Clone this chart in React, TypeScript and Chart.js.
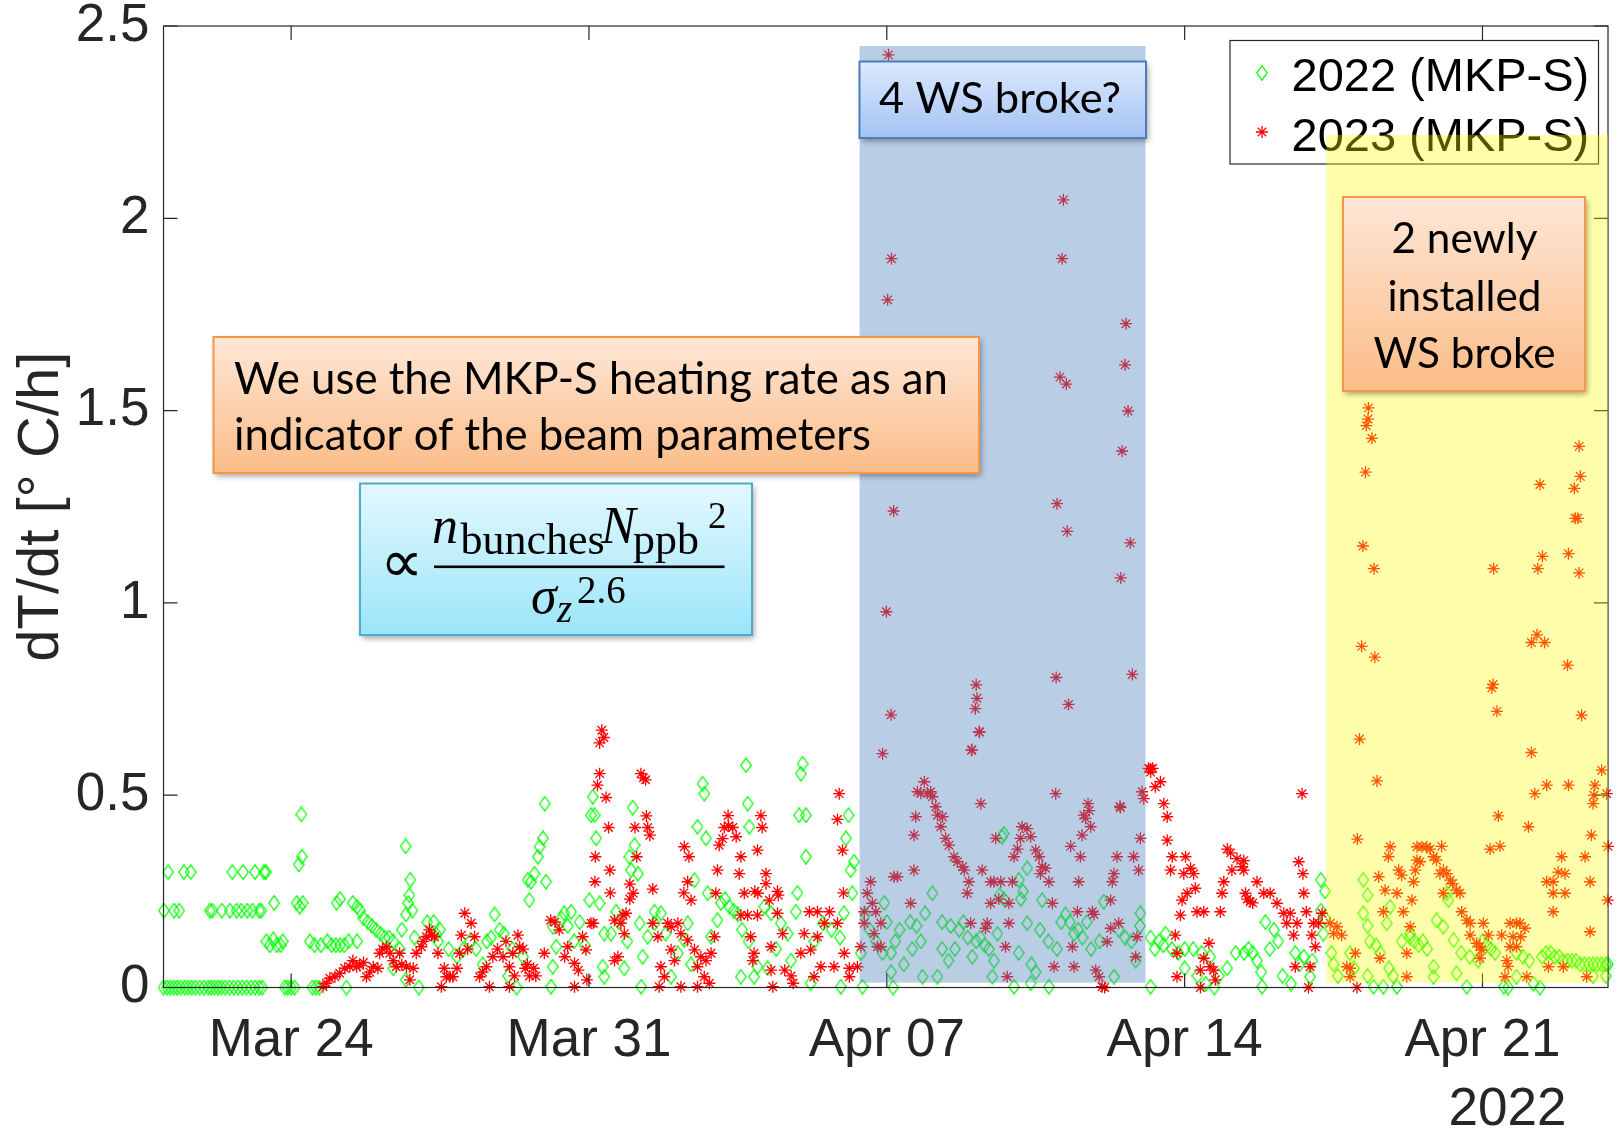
import React, { useEffect, useRef } from "react";
import { Chart, registerables } from "chart.js";

Chart.register(...registerables);

// ---------------- axes ----------------
// x is measured in days since Mar 21 (2022 calendar)
const X_MIN = 0;
const X_MAX = 33.95;
const xTickDays = [3, 10, 17, 24, 31];
const xTickLabels = ["Mar 24", "Mar 31", "Apr 07", "Apr 14", "Apr 21"];
const yearLabel = "2022";
const yTickValues = [0, 0.5, 1, 1.5, 2, 2.5];
const yTickLabels = ["0", "0.5", "1", "1.5", "2", "2.5"];
const yAxisTitle = "dT/dt [° C/h]";
const seriesNames = ["2022 (MKP-S)", "2023 (MKP-S)"];

// ---------------- data: [day, dT/dt] ----------------
const points2022: [number, number][] = [
  [0, 0], [0.08, 0], [0.16, 0], [0.24, 0], [0.32, 0], [0.4, 0], [0.5, 0], [0.58, 0], [0.66, 0], [0.75, 0],
  [0.85, 0], [0.95, 0], [1.05, 0], [1.12, 0], [1.2, 0], [1.28, 0], [1.36, 0], [1.45, 0], [1.55, 0], [1.65, 0],
  [1.75, 0], [1.85, 0], [1.95, 0], [2.05, 0], [2.15, 0], [2.25, 0], [2.32, 0],
  [2.85, 0], [2.92, 0], [3.0, 0], [3.08, 0], [3.5, 0], [3.58, 0], [3.66, 0], [4.3, 0],
  [0.01, 0.2], [0.25, 0.2], [0.37, 0.2], [1.09, 0.2], [1.15, 0.2], [1.37, 0.2], [1.56, 0.2], [1.72, 0.2],
  [1.83, 0.2], [1.97, 0.2], [2.09, 0.2], [2.25, 0.2], [2.3, 0.2],
  [0.11, 0.3], [0.48, 0.3], [0.64, 0.3], [1.62, 0.3], [1.87, 0.3], [2.15, 0.3], [2.36, 0.3], [2.41, 0.3],
  [2.42, 0.12], [2.5, 0.11], [2.58, 0.125], [2.66, 0.11], [2.75, 0.11], [2.8, 0.12], [2.6, 0.22],
  [3.13, 0.22], [3.2, 0.21], [3.27, 0.22], [3.18, 0.32], [3.25, 0.34], [3.24, 0.45],
  [3.44, 0.12], [3.55, 0.11], [3.7, 0.11], [3.85, 0.12], [3.95, 0.11], [4.05, 0.11], [4.15, 0.11], [4.25, 0.11],
  [4.35, 0.12], [4.55, 0.12], [4.07, 0.22], [4.15, 0.23],
  [4.45, 0.22], [4.55, 0.21], [4.62, 0.2], [4.7, 0.18], [4.8, 0.17], [4.9, 0.16], [5.0, 0.15], [5.1, 0.14],
  [5.2, 0.13], [5.3, 0.13], [5.4, 0.12],
  [5.69, 0.367], [5.8, 0.28], [5.78, 0.24], [5.75, 0.22], [5.85, 0.2], [5.7, 0.19], [5.6, 0.15], [5.9, 0.13],
  [5.4, 0.05], [5.55, 0.1], [5.7, 0.02], [6.0, 0.0],
  [6.2, 0.17], [6.35, 0.17], [6.5, 0.15], [6.4, 0.14], [6.45, 0.12],
  [6.7, 0.1], [6.9, 0.08], [7.05, 0.1], [7.2, 0.12], [7.35, 0.1], [7.5, 0.06], [7.7, 0.13], [7.6, 0.12],
  [7.78, 0.19], [7.9, 0.15], [8.0, 0.14], [8.1, 0.03], [8.3, 0.0], [8.45, 0.08], [8.2, 0.1],
  [8.56, 0.28], [8.6, 0.227], [8.64, 0.275], [8.72, 0.296], [8.8, 0.34], [8.84, 0.366], [8.92, 0.388],
  [8.96, 0.478], [8.99, 0.275],
  [9.42, 0.193], [9.58, 0.197], [9.15, 0.158], [9.78, 0.17], [9.23, 0.106], [9.15, 0.054], [9.11, 0.002],
  [9.35, 0.18], [9.5, 0.16], [9.65, 0.12], [9.9, 0.11],
  [10.09, 0.496], [10.05, 0.448], [10.13, 0.448], [10.17, 0.388], [10.01, 0.227], [10.25, 0.219], [10.36, 0.14],
  [10.32, 0.054], [10.36, 0.028], [10.64, 0.197], [10.52, 0.14], [10.83, 0.05], [10.7, 0.17], [10.9, 0.12],
  [11.03, 0.468], [11.07, 0.37], [10.95, 0.34], [10.99, 0.305], [11.15, 0.296], [11.19, 0.167], [11.26, 0.08],
  [11.23, 0.002], [11.54, 0.197], [11.69, 0.193], [11.38, 0.132], [11.54, 0.167], [11.93, 0.028], [11.8, 0.14],
  [12.09, 0.089], [12.32, 0.167], [12.24, 0.123], [12.67, 0.53], [12.71, 0.504], [12.55, 0.418], [12.75, 0.388],
  [12.48, 0.279], [12.79, 0.245], [12.87, 0.132], [12.4, 0.06],
  [13.02, 0.175], [13.1, 0.22], [13.2, 0.23], [13.3, 0.21], [13.4, 0.2], [13.5, 0.19], [13.57, 0.028],
  [13.69, 0.578], [13.73, 0.478], [13.77, 0.418], [13.88, 0.028], [13.96, 0.054], [13.6, 0.15], [13.75, 0.12],
  [14.12, 0.21], [14.28, 0.193], [14.51, 0.167], [14.67, 0.14], [14.75, 0.07], [14.4, 0.1], [14.2, 0.05],
  [15.02, 0.582], [14.98, 0.556], [14.94, 0.448], [15.1, 0.448], [15.1, 0.34], [14.9, 0.246], [14.86, 0.197],
  [15.21, 0.011], [15.5, 0.167], [15.7, 0.15], [15.9, 0.13], [15.92, 0.002], [15.3, 0.12],
  [16.1, 0.448], [16.04, 0.388], [16.23, 0.327], [16.15, 0.305], [16.19, 0.245], [15.99, 0.193], [16.39, 0.089],
  [16.43, 0.002], [16.94, 0.22], [16.6, 0.15], [16.75, 0.12], [16.9, 0.09], [17.0, 0.17], [16.5, 0.19],
  [17.2, 0.12], [17.3, 0.15], [17.1, 0.09], [17.1, 0.04], [17.15, 0.0], [17.55, 0.17], [17.7, 0.16], [17.8, 0.12],
  [17.6, 0.1], [17.9, 0.193], [18.07, 0.245], [17.84, 0.028], [18.19, 0.028], [17.4, 0.06],
  [18.3, 0.17], [18.5, 0.16], [18.7, 0.15], [18.9, 0.13], [18.6, 0.1], [18.3, 0.1], [18.45, 0.07], [18.8, 0.17],
  [19.01, 0.08], [19.1, 0.12], [19.3, 0.11], [19.4, 0.1], [19.52, 0.07], [19.48, 0.028], [19.6, 0.14],
  [19.71, 0.392], [19.75, 0.4], [19.65, 0.24], [19.75, 0.23], [19.99, 0.002], [19.2, 0.13],
  [20.1, 0.28], [20.3, 0.31], [20.2, 0.25], [20.15, 0.23], [20.3, 0.167], [20.1, 0.09], [20.4, 0.06], [20.5, 0.04],
  [20.38, 0.011], [20.65, 0.227], [20.6, 0.15], [20.8, 0.12], [21.0, 0.1], [20.81, 0.002],
  [21.1, 0.17], [21.3, 0.17], [21.5, 0.15], [21.4, 0.14], [21.2, 0.19], [21.6, 0.13], [21.8, 0.1], [22.0, 0.12],
  [22.1, 0.223], [22.34, 0.028], [21.7, 0.17],
  [22.45, 0.15], [22.6, 0.13], [22.75, 0.12], [22.95, 0.16], [22.96, 0.193], [22.85, 0.07], [23.2, 0.002],
  [23.2, 0.13], [23.4, 0.12], [23.5, 0.11], [23.7, 0.1], [23.85, 0.09], [24.0, 0.05], [23.55, 0.14], [23.3, 0.1],
  [24.0, 0.1], [24.2, 0.1], [24.4, 0.09], [24.6, 0.08], [24.3, 0.03], [24.5, 0.01], [24.7, 0.0], [24.8, 0.03],
  [25.0, 0.05], [25.2, 0.09], [25.5, 0.1], [25.6, 0.09], [25.4, 0.09], [25.8, 0.04], [25.82, 0.002], [25.7, 0.07],
  [25.9, 0.17], [26.1, 0.15], [26.2, 0.12], [26.0, 0.1], [26.3, 0.03], [26.5, 0.01], [26.6, 0.09], [26.8, 0.08],
  [27.0, 0.07], [26.95, 0.028], [26.7, 0.06],
  [27.2, 0.28], [27.3, 0.25], [27.2, 0.2], [27.3, 0.18], [27.26, 0.14], [27.45, 0.09], [27.6, 0.03],
  [27.89, 0.089], [27.98, 0.05], [28.3, 0.03], [27.5, 0.06],
  [28.2, 0.28], [28.3, 0.24], [28.2, 0.193], [28.3, 0.16], [28.35, 0.12], [28.44, 0.002], [28.67, 0.002],
  [28.99, 0.002], [28.6, 0.09], [28.8, 0.05], [28.9, 0.03], [28.75, 0.167], [28.83, 0.21], [28.5, 0.11],
  [29.1, 0.12], [29.3, 0.13], [29.5, 0.11], [29.7, 0.1], [29.3, 0.14], [29.4, 0.12], [29.6, 0.12], [29.85, 0.054],
  [29.85, 0.028], [29.92, 0.175], [30.08, 0.158], [30.16, 0.245], [30.2, 0.227], [30.32, 0.123], [30.39, 0.037],
  [30.5, 0.09], [30.7, 0.08], [30.9, 0.07], [30.63, 0.002], [31.0, 0.12], [31.2, 0.1], [31.3, 0.09], [31.1, 0.11],
  [31.5, 0.002], [31.6, 0.0], [31.8, 0.09], [32.1, 0.07], [31.8, 0.028], [31.95, 0.08], [32.2, 0.01], [32.35, 0.0],
  [32.4, 0.08], [32.5, 0.09], [32.6, 0.09], [32.7, 0.08], [32.8, 0.08], [32.9, 0.07], [33.0, 0.07], [33.1, 0.07],
  [33.2, 0.07], [33.3, 0.06], [33.4, 0.06], [33.5, 0.06], [33.6, 0.06], [33.7, 0.06], [33.8, 0.06], [33.9, 0.06],
  [33.95, 0.06], [33.6, 0.03], [33.9, 0.03],
];

const points2023: [number, number][] = [
  [3.75, 0.002], [3.83, 0.011], [3.91, 0.024], [4.03, 0.028], [4.14, 0.037], [4.26, 0.05], [4.38, 0.054],
  [4.54, 0.054], [4.61, 0.058], [4.77, 0.028], [4.93, 0.054], [5.04, 0.05], [5.08, 0.089], [5.24, 0.106],
  [5.32, 0.089], [5.47, 0.054], [5.55, 0.089], [5.71, 0.054], [5.87, 0.05], [5.79, 0.02], [5.94, 0.089],
  [6.06, 0.106], [6.18, 0.132], [6.3, 0.136], [6.37, 0.132], [6.45, 0.089], [6.53, 0.002], [6.65, 0.028],
  [6.73, 0.028], [6.8, 0.028], [6.96, 0.089], [7.0, 0.136], [7.08, 0.193], [7.23, 0.167], [7.31, 0.132],
  [7.43, 0.028], [7.66, 0.002], [7.59, 0.054], [7.74, 0.08], [7.98, 0.08], [8.13, 0.054], [8.21, 0.089],
  [8.33, 0.136], [8.37, 0.106], [8.13, 0.002],
  [4.45, 0.07], [4.7, 0.065], [4.85, 0.04], [5.15, 0.1], [5.4, 0.07], [5.6, 0.06], [6.1, 0.12], [6.25, 0.15],
  [6.6, 0.05], [6.9, 0.05], [7.15, 0.1], [7.5, 0.04], [7.85, 0.1], [8.05, 0.12], [8.25, 0.03], [8.45, 0.1],
  [8.5, 0.05], [8.6, 0.03], [8.7, 0.05], [8.75, 0.03], [8.55, 0.06], [8.95, 0.089], [9.1, 0.175], [9.2, 0.17],
  [9.3, 0.15], [9.5, 0.106], [9.43, 0.08], [9.66, 0.063], [9.75, 0.045], [9.95, 0.02], [9.85, 0.132],
  [9.66, 0.002], [10.05, 0.167], [9.93, 0.098],
  [10.3, 0.669], [10.25, 0.636], [10.35, 0.65], [10.25, 0.556], [10.2, 0.526], [10.4, 0.494], [10.46, 0.416],
  [10.15, 0.34], [10.49, 0.305], [10.14, 0.275], [10.5, 0.246], [10.1, 0.167],
  [10.6, 0.175], [10.75, 0.167], [10.83, 0.14], [10.87, 0.193], [10.68, 0.08], [10.6, 0.07],
  [11.22, 0.556], [11.28, 0.545], [11.33, 0.54], [11.35, 0.446], [11.08, 0.416], [11.38, 0.416], [11.43, 0.396],
  [11.12, 0.34], [10.96, 0.269], [11.04, 0.245], [10.96, 0.23], [10.8, 0.188], [11.5, 0.256],
  [11.5, 0.167], [11.85, 0.167], [11.93, 0.158], [11.62, 0.132], [11.69, 0.054], [11.77, 0.028], [11.65, 0.002],
  [12.09, 0.167], [12.16, 0.14], [11.93, 0.098], [12.01, 0.07],
  [12.24, 0.366], [12.35, 0.34], [12.32, 0.275], [12.23, 0.246], [12.4, 0.227], [12.32, 0.123], [12.48, 0.098],
  [12.63, 0.08], [12.75, 0.07], [12.87, 0.089], [12.55, 0.054], [12.71, 0.028], [12.55, 0.002], [12.83, 0.011],
  [12.16, 0.002], [13.02, 0.305], [12.98, 0.245], [12.95, 0.132],
  [13.27, 0.447], [13.18, 0.416], [13.38, 0.416], [13.46, 0.392], [13.06, 0.37], [13.14, 0.387], [13.28, 0.42],
  [13.57, 0.34], [13.53, 0.296], [13.65, 0.245], [13.9, 0.25], [13.97, 0.245], [13.96, 0.357], [14.04, 0.447],
  [14.07, 0.416], [14.16, 0.296], [14.16, 0.27], [14.24, 0.227], [14.43, 0.25], [14.45, 0.24],
  [13.57, 0.188], [13.73, 0.188], [13.96, 0.188], [13.8, 0.132], [13.88, 0.089], [13.85, 0.07], [14.28, 0.106],
  [14.28, 0.045], [14.32, 0.002], [14.55, 0.14], [14.43, 0.193], [14.6, 0.045], [14.75, 0.03], [14.8, 0.011],
  [14.98, 0.089], [15.06, 0.14], [15.21, 0.098], [15.37, 0.132], [15.18, 0.197], [15.37, 0.197], [15.65, 0.197],
  [15.53, 0.167], [15.84, 0.167], [15.29, 0.028], [15.45, 0.054], [15.76, 0.054],
  [15.88, 0.504], [15.84, 0.437], [15.96, 0.357], [15.98, 0.246], [16.0, 0.089], [16.12, 0.05], [16.12, 0.028],
  [16.31, 0.054],
  [16.39, 0.106], [16.47, 0.197], [16.62, 0.275], [16.54, 0.245], [16.66, 0.219], [16.74, 0.197], [16.86, 0.167],
  [16.78, 0.106], [16.86, 0.106], [16.7, 0.14], [16.47, 0.167], [16.9, 0.608], [17.17, 0.288],
  [17.04, 2.425], [17.11, 1.895], [17.02, 1.788], [17.16, 1.239], [16.99, 0.977], [17.1, 0.709],
  [19.17, 0.665], [18.99, 0.617], [17.88, 0.535], [17.72, 0.509], [18.03, 0.509], [17.8, 0.505], [17.95, 0.505],
  [18.07, 0.496], [18.15, 0.47], [18.19, 0.448], [18.31, 0.444], [17.68, 0.444], [18.27, 0.418], [17.64, 0.396],
  [18.38, 0.388], [18.46, 0.37], [18.58, 0.34], [18.66, 0.327], [18.78, 0.314], [18.82, 0.305], [18.93, 0.275],
  [18.89, 0.245], [17.64, 0.305], [17.25, 0.288], [17.56, 0.219],
  [19.21, 0.478], [19.24, 0.305], [19.56, 0.388], [19.44, 0.275], [19.52, 0.275], [19.68, 0.275], [19.44, 0.219],
  [19.63, 0.23], [19.95, 0.275], [19.87, 0.219], [18.97, 0.167], [19.36, 0.167], [19.32, 0.154], [19.87, 0.167],
  [19.79, 0.106], [19.83, 0.028],
  [19.1, 0.787], [19.12, 0.752], [19.08, 0.725], [19.18, 0.664], [19.0, 0.618],
  [20.18, 0.418], [20.3, 0.413], [20.14, 0.388], [20.38, 0.392], [20.07, 0.36], [19.99, 0.34], [20.5, 0.357],
  [20.58, 0.34], [20.65, 0.314], [20.73, 0.31], [20.61, 0.296], [20.81, 0.275], [20.97, 0.504], [20.89, 0.219],
  [20.93, 0.054],
  [21.15, 2.048], [21.12, 1.895], [21.07, 1.587], [21.22, 1.569], [21.0, 1.258], [21.24, 1.186], [20.98, 0.806],
  [21.27, 0.736],
  [21.4, 0.054], [21.36, 0.106], [21.32, 0.367], [21.59, 0.396], [21.63, 0.448], [21.67, 0.44], [21.73, 0.478],
  [21.76, 0.46], [21.79, 0.418], [21.55, 0.34], [21.51, 0.275], [21.48, 0.197], [21.83, 0.197], [21.87, 0.19],
  [21.91, 0.045], [21.99, 0.028], [22.06, 0.002], [22.12, 0.0],
  [22.26, 0.227], [22.34, 0.296], [22.3, 0.275], [22.41, 0.34], [22.49, 0.468], [22.26, 0.154], [22.45, 0.167],
  [22.18, 0.119], [22.8, 0.34], [22.92, 0.305], [22.96, 0.388], [22.88, 0.132], [22.85, 0.08], [23.04, 0.491],
  [23.0, 0.509],
  [22.62, 1.726], [22.6, 1.619], [22.67, 1.499], [22.53, 1.395], [22.72, 1.156], [22.5, 1.065], [22.77, 0.814],
  [22.48, 0.471],
  [23.15, 0.57], [23.2, 0.568], [23.25, 0.57], [23.2, 0.56], [23.43, 0.535], [23.31, 0.522], [23.51, 0.478],
  [23.59, 0.444], [23.59, 0.383], [23.71, 0.34], [23.67, 0.305], [24.02, 0.34], [23.98, 0.296], [24.14, 0.31],
  [24.21, 0.296], [24.25, 0.258], [24.06, 0.245], [23.94, 0.227], [23.9, 0.188], [24.29, 0.197], [24.45, 0.197],
  [24.84, 0.197], [23.78, 0.136], [23.82, 0.089], [23.82, 0.028],
  [24.57, 0.115], [24.45, 0.076], [24.6, 0.054], [24.37, 0.045], [24.68, 0.045], [24.37, 0.0], [24.72, 0.02],
  [25.0, 0.36], [25.08, 0.35], [25.23, 0.335], [25.35, 0.314], [25.11, 0.305], [24.92, 0.275], [24.88, 0.245],
  [25.43, 0.245], [25.54, 0.223],
  [25.39, 0.33], [25.39, 0.305], [25.47, 0.23], [25.6, 0.22], [25.7, 0.275], [25.86, 0.245], [26.01, 0.245],
  [26.17, 0.219], [26.33, 0.193], [26.48, 0.193], [26.4, 0.167], [26.64, 0.167], [26.56, 0.136], [26.76, 0.504],
  [26.68, 0.327], [26.78, 0.296], [26.8, 0.245], [26.86, 0.197], [27.03, 0.167], [26.99, 0.136], [27.07, 0.106],
  [26.6, 0.054], [26.95, 0.054], [26.91, 0.0], [27.23, 0.193], [27.15, 0.167],
  [27.42, 0.167], [27.58, 0.158], [27.69, 0.136], [27.5, 0.14], [27.81, 0.054], [27.89, 0.05], [27.89, 0.028],
  [28.01, 0.089], [28.05, 0.0],
  [28.11, 0.646], [28.52, 0.537], [28.06, 0.386], [28.56, 0.288], [28.67, 0.197], [28.71, 0.253], [28.83, 0.366],
  [28.79, 0.34], [28.99, 0.245], [29.03, 0.305], [29.1, 0.292], [29.14, 0.197], [28.59, 0.076], [29.22, 0.028],
  [29.22, 0.089], [29.3, 0.158], [29.34, 0.227], [29.38, 0.275], [29.42, 0.305], [29.46, 0.331], [29.46, 0.366],
  [29.58, 0.366], [29.69, 0.366], [29.77, 0.36], [29.85, 0.34], [29.92, 0.331], [29.53, 0.327], [30.04, 0.367],
  [30.08, 0.305], [30.0, 0.296], [30.16, 0.296], [30.24, 0.279], [30.3, 0.27], [30.39, 0.253], [30.47, 0.245],
  [30.08, 0.245], [30.51, 0.197], [30.63, 0.175], [30.71, 0.167], [30.71, 0.136], [30.86, 0.115], [30.94, 0.106],
  [30.98, 0.098], [30.94, 0.076], [31.02, 0.167], [31.14, 0.136], [31.18, 0.36], [31.41, 0.367], [31.37, 0.446],
  [31.45, 0.136], [31.57, 0.07], [31.6, 0.055], [31.53, 0.028], [31.65, 0.167], [31.8, 0.167], [31.88, 0.167],
  [32.0, 0.154], [31.72, 0.132], [31.9, 0.132], [31.65, 0.106], [31.8, 0.106], [32.04, 0.028],
  [32.08, 0.418], [32.15, 0.611], [32.23, 0.504], [32.51, 0.526], [32.51, 0.275], [32.66, 0.275], [32.78, 0.3],
  [32.86, 0.34], [32.94, 0.296], [32.66, 0.245], [32.94, 0.245], [32.66, 0.197], [32.55, 0.054], [32.9, 0.054],
  [33.02, 0.526], [33.41, 0.34], [33.53, 0.275], [33.56, 0.396], [33.53, 0.145], [33.45, 0.028], [33.64, 0.526],
  [33.62, 0.5], [33.6, 0.478], [33.8, 0.565], [33.92, 0.504], [33.95, 0.367], [33.94, 0.227],
  [28.32, 1.507], [28.31, 1.478], [28.27, 1.461], [28.4, 1.428], [28.25, 1.34], [28.19, 1.148], [28.45, 1.089],
  [28.16, 0.887], [28.47, 0.859], [31.26, 1.089], [31.22, 0.779], [31.25, 0.788], [31.34, 0.718], [32.35, 1.308],
  [32.41, 1.121], [32.3, 1.089], [32.28, 0.917], [32.15, 0.897], [32.46, 0.897], [33.27, 1.407], [33.3, 1.329],
  [33.16, 1.298], [33.18, 1.22], [33.24, 1.22], [33.02, 1.128], [33.27, 1.078], [33.0, 0.838], [33.33, 0.708],
];

// shaded periods (data units: days, dT/dt)
const blueBand = { from: 16.36, to: 23.08, low: 0.0125, high: 2.448 };
const yellowBand = { from: 27.33, to: 33.95, low: 0.0125, high: 2.217 };

// annotation texts
const noteBroke4 = "4 WS broke?";
const noteIndicator = ["We use the MKP-S heating rate as an", "indicator of the beam parameters"];
const noteNewly = ["2 newly", "installed", "WS broke"];

// ---------------- styling ----------------
const AXIS_COLOR = "#262626";
const AXIS_FONT = "'Liberation Sans', Arial, sans-serif";
const NOTE_FONT = "Lato, 'Open Sans', sans-serif";
const MATH_FONT = "'Liberation Serif', 'DejaVu Serif', serif";
const GREEN = "#00ff00";
const RED = "#ff0000";

function makeDiamond(): HTMLCanvasElement {
  const c = document.createElement("canvas");
  c.width = 12;
  c.height = 16;
  const g = c.getContext("2d")!;
  g.strokeStyle = GREEN;
  g.lineWidth = 1.25;
  g.beginPath();
  g.moveTo(6, 0.8);
  g.lineTo(11.2, 8);
  g.lineTo(6, 15.2);
  g.lineTo(0.8, 8);
  g.closePath();
  g.stroke();
  return c;
}

function drawStar(ctx: CanvasRenderingContext2D, x: number, y: number, r: number) {
  const d = r * Math.SQRT1_2;
  ctx.save();
  ctx.strokeStyle = RED;
  ctx.lineWidth = 1.3;
  ctx.beginPath();
  ctx.moveTo(x - r, y); ctx.lineTo(x + r, y);
  ctx.moveTo(x, y - r); ctx.lineTo(x, y + r);
  ctx.moveTo(x - d, y - d); ctx.lineTo(x + d, y + d);
  ctx.moveTo(x - d, y + d); ctx.lineTo(x + d, y - d);
  ctx.stroke();
  ctx.restore();
}

function fitSize(ctx: CanvasRenderingContext2D, text: string, family: string, target: number, style = "") {
  ctx.font = `${style} 100px ${family}`;
  const w = ctx.measureText(text).width || 1;
  return (100 * target) / w;
}

type Box = { x0: number; y0: number; x1: number; y1: number; top: string; bottom: string; border: string };

function noteBox(ctx: CanvasRenderingContext2D, b: Box) {
  ctx.save();
  ctx.shadowColor = "rgba(0,0,0,0.38)";
  ctx.shadowBlur = 6;
  ctx.shadowOffsetX = 2;
  ctx.shadowOffsetY = 3;
  const g = ctx.createLinearGradient(0, b.y0, 0, b.y1);
  g.addColorStop(0, b.top);
  g.addColorStop(1, b.bottom);
  ctx.fillStyle = g;
  ctx.fillRect(b.x0, b.y0, b.x1 - b.x0, b.y1 - b.y0);
  ctx.restore();
  ctx.save();
  ctx.strokeStyle = b.border;
  ctx.lineWidth = 2;
  ctx.strokeRect(b.x0, b.y0, b.x1 - b.x0, b.y1 - b.y0);
  ctx.restore();
}

const ORANGE = { top: "#fee7d6", bottom: "#fbbc88", border: "#f79646" };
const BLUE = { top: "#dde9fd", bottom: "#a4c3f6", border: "#4a7ebb" };
const CYAN = { top: "#e3f8fe", bottom: "#9be5fa", border: "#4bacc6" };

export default function App() {
  const ref = useRef<HTMLCanvasElement | null>(null);

  useEffect(() => {
    document.body.style.margin = "0";
    const canvas = ref.current!;
    const diamond = makeDiamond();

    const overlayPlugin = {
      id: "overlays",
      afterDatasetsDraw(chart: any) {
        const { ctx, chartArea: a, scales } = chart;
        const xs = scales.x;
        const ys = scales.y;
        ctx.save();

        // axes frame + inward ticks (MATLAB box style)
        ctx.strokeStyle = AXIS_COLOR;
        ctx.lineWidth = 1.2;
        ctx.strokeRect(a.left, a.top, a.right - a.left, a.bottom - a.top);
        ctx.beginPath();
        const TL = 14;
        for (const d of xTickDays) {
          const px = xs.getPixelForValue(d);
          ctx.moveTo(px, a.bottom); ctx.lineTo(px, a.bottom - TL);
          ctx.moveTo(px, a.top); ctx.lineTo(px, a.top + TL);
        }
        for (const v of yTickValues) {
          const py = ys.getPixelForValue(v);
          ctx.moveTo(a.left, py); ctx.lineTo(a.left + TL, py);
          ctx.moveTo(a.right, py); ctx.lineTo(a.right - TL, py);
        }
        ctx.stroke();

        // year label under the last tick
        ctx.fillStyle = AXIS_COLOR;
        ctx.font = `53px ${AXIS_FONT}`;
        ctx.textAlign = "center";
        ctx.textBaseline = "alphabetic";
        ctx.fillText(yearLabel, xs.getPixelForValue(xTickDays[xTickDays.length - 1]) + 25, 1125);

        // legend
        const lg = { x0: 1230, y0: 40.5, x1: 1598.5, y1: 164 };
        ctx.fillStyle = "#ffffff";
        ctx.fillRect(lg.x0, lg.y0, lg.x1 - lg.x0, lg.y1 - lg.y0);
        ctx.strokeStyle = AXIS_COLOR;
        ctx.lineWidth = 1.2;
        ctx.strokeRect(lg.x0, lg.y0, lg.x1 - lg.x0, lg.y1 - lg.y0);
        ctx.drawImage(diamond, 1262 - 6, 73 - 8);
        drawStar(ctx, 1262, 132, 6);
        ctx.fillStyle = "#000000";
        ctx.font = `47px ${AXIS_FONT}`;
        ctx.textAlign = "left";
        ctx.fillText(seriesNames[0], 1291.5, 90.5);
        ctx.fillText(seriesNames[1], 1291.5, 150.5);

        // shaded periods
        const band = (b: typeof blueBand, color: string) => {
          const x0 = xs.getPixelForValue(b.from);
          const x1 = xs.getPixelForValue(b.to);
          const y0 = ys.getPixelForValue(b.high);
          const y1 = ys.getPixelForValue(b.low);
          ctx.fillStyle = color;
          ctx.fillRect(x0, y0, x1 - x0, y1 - y0);
        };
        band(blueBand, "rgba(79,129,189,0.4)");
        band(yellowBand, "rgba(255,255,0,0.33)");

        // ---- annotation boxes ----
        // "4 WS broke?"
        noteBox(ctx, { x0: 859.5, y0: 61.5, x1: 1146, y1: 138, ...BLUE });
        ctx.fillStyle = "#000000";
        let s = fitSize(ctx, noteBroke4, NOTE_FONT, 242);
        ctx.font = `${s}px ${NOTE_FONT}`;
        ctx.textAlign = "center";
        ctx.fillText(noteBroke4, 1000, 113);

        // indicator note
        noteBox(ctx, { x0: 213.5, y0: 337, x1: 979, y1: 473, ...ORANGE });
        ctx.fillStyle = "#000000";
        s = fitSize(ctx, noteIndicator[0], NOTE_FONT, 714);
        ctx.font = `${s}px ${NOTE_FONT}`;
        ctx.textAlign = "left";
        ctx.fillText(noteIndicator[0], 234, 394);
        ctx.fillText(noteIndicator[1], 234, 450);

        // newly installed note
        noteBox(ctx, { x0: 1343, y0: 197, x1: 1585, y1: 391, ...ORANGE });
        ctx.fillStyle = "#000000";
        s = fitSize(ctx, noteNewly[2], NOTE_FONT, 182);
        ctx.font = `${s}px ${NOTE_FONT}`;
        ctx.textAlign = "center";
        ctx.fillText(noteNewly[0], 1464.5, 253);
        ctx.fillText(noteNewly[1], 1464.5, 311);
        ctx.fillText(noteNewly[2], 1464.5, 368);

        // formula box
        noteBox(ctx, { x0: 360, y0: 483.5, x1: 752, y1: 635, ...CYAN });
        ctx.fillStyle = "#000000";
        ctx.textAlign = "center";
        ctx.font = `60px 'DejaVu Sans', 'DejaVu Serif', sans-serif`;
        ctx.textBaseline = "middle";
        ctx.fillText("∝", 402, 566);
        ctx.textAlign = "left";
        ctx.textBaseline = "alphabetic";
        ctx.font = `italic 52px ${MATH_FONT}`;
        ctx.fillText("n", 432, 543);
        ctx.font = `44px ${MATH_FONT}`;
        ctx.fillText("bunches", 460.5, 553.5);
        ctx.font = `italic 52px ${MATH_FONT}`;
        ctx.fillText("N", 601, 543);
        ctx.font = `44px ${MATH_FONT}`;
        ctx.fillText("ppb", 633, 553.5);
        ctx.font = `37px ${MATH_FONT}`;
        ctx.fillText("2", 708, 527.5);
        ctx.fillRect(434, 565.5, 290.5, 2.6);
        ctx.font = `italic 52px ${MATH_FONT}`;
        ctx.fillText("σ", 531, 613);
        ctx.font = `italic 39px ${MATH_FONT}`;
        ctx.fillText("z", 557, 621.5);
        ctx.font = `39px ${MATH_FONT}`;
        ctx.fillText("2.6", 577, 603);

        ctx.restore();
      },
    };

    const chart = new Chart(canvas, {
      type: "scatter",
      data: {
        datasets: [
          {
            label: seriesNames[0],
            data: points2022.map(([x, y]) => ({ x, y })),
            pointStyle: diamond as any,
            pointRadius: 7,
            borderColor: GREEN,
            backgroundColor: "rgba(0,0,0,0)",
            clip: false as any,
            order: 1,
          },
          {
            label: seriesNames[1],
            data: points2023.map(([x, y]) => ({ x, y })),
            pointStyle: "star",
            pointRadius: 6,
            borderWidth: 1.3,
            borderColor: RED,
            backgroundColor: RED,
            clip: false as any,
            order: 0,
          },
        ],
      },
      options: {
        responsive: false,
        animation: false,
        events: [],
        layout: { padding: { left: 0, top: 26, right: 3, bottom: 40.5 } },
        plugins: { legend: { display: false }, tooltip: { enabled: false } },
        scales: {
          x: {
            type: "linear",
            min: X_MIN,
            max: X_MAX,
            grid: { display: false, drawTicks: false },
            border: { display: false },
            afterBuildTicks: (sc: any) => {
              sc.ticks = xTickDays.map((v) => ({ value: v }));
            },
            afterFit: (sc: any) => {
              sc.height = 100;
              sc.paddingLeft = 0;
              sc.paddingRight = 0;
            },
            ticks: {
              autoSkip: false,
              maxRotation: 0,
              padding: 27,
              color: AXIS_COLOR,
              font: { family: AXIS_FONT, size: 53, lineHeight: 1 },
              callback: (v: any) => {
                const i = xTickDays.indexOf(Number(v));
                return i >= 0 ? xTickLabels[i] : "";
              },
            },
          },
          y: {
            type: "linear",
            min: 0,
            max: 2.5,
            grid: { display: false, drawTicks: false },
            border: { display: false },
            afterBuildTicks: (sc: any) => {
              sc.ticks = yTickValues.map((v) => ({ value: v }));
            },
            afterFit: (sc: any) => {
              sc.width = 163.5;
              sc.paddingTop = 0;
              sc.paddingBottom = 0;
            },
            ticks: {
              padding: 14,
              color: AXIS_COLOR,
              font: { family: AXIS_FONT, size: 53, lineHeight: 1 },
              callback: (v: any) => {
                const i = yTickValues.indexOf(Number(v));
                return i >= 0 ? yTickLabels[i] : "";
              },
            },
            title: {
              display: true,
              text: yAxisTitle,
              color: AXIS_COLOR,
              font: { family: AXIS_FONT, size: 58, lineHeight: 1 },
              padding: { top: 13, bottom: 0 },
            },
          },
        },
      },
      plugins: [overlayPlugin],
    } as any);

    let alive = true;
    if ((document as any).fonts && (document as any).fonts.load) {
      Promise.all([
        (document as any).fonts.load("50px 'Liberation Sans'"),
        (document as any).fonts.load("50px Lato"),
        (document as any).fonts.load("italic 50px 'Liberation Serif'"),
        (document as any).fonts.load("50px 'Liberation Serif'"),
        (document as any).fonts.load("60px 'DejaVu Sans'"),
      ])
        .then(() => {
          if (alive) chart.update();
        })
        .catch(() => {});
    }

    return () => {
      alive = false;
      chart.destroy();
    };
  }, []);

  return (
    <div style={{ width: 1616, height: 1128, position: "relative" }}>
      <canvas ref={ref} width={1616} height={1128} style={{ display: "block", width: 1616, height: 1128 }} />
    </div>
  );
}
